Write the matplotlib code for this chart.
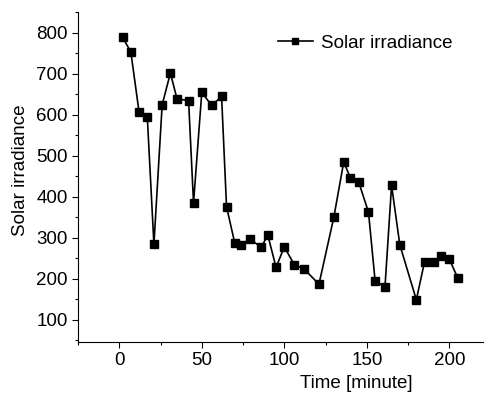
import matplotlib
matplotlib.use("Agg")
import matplotlib.pyplot as plt
from matplotlib.ticker import MultipleLocator

plt.rcParams["font.family"] = ["Liberation Sans", "DejaVu Sans"]

# time [minute] and irradiance
time_min = [2, 7, 12, 17, 21, 26, 31, 35, 42, 45, 50, 56, 62, 65, 70, 74, 79,
            86, 90, 95, 100, 106, 112, 121, 130, 136, 140, 145, 151, 155, 161,
            165, 170, 180, 185, 191, 195, 200, 205]
irradiance = [789, 754, 607, 594, 284, 625, 702, 639, 635, 385, 655, 623, 645,
              376, 287, 282, 298, 277, 307, 228, 278, 235, 224, 187, 350, 485,
              447, 437, 363, 196, 180, 428, 283, 149, 242, 242, 257, 248, 203]

FS = 13.5

fig = plt.figure(figsize=(4.85, 3.94), dpi=100)
ax = fig.add_axes([78 / 485, 52 / 394, 406 / 485, 330 / 394])

ax.plot(time_min, irradiance, color="black", lw=1.2, marker="s", ms=6,
        label="Solar irradiance")

ax.set_xlim(-25, 221)
ax.set_ylim(46, 851)
ax.xaxis.set_major_locator(MultipleLocator(50))
ax.xaxis.set_minor_locator(MultipleLocator(25))
ax.yaxis.set_major_locator(MultipleLocator(100))
ax.yaxis.set_minor_locator(MultipleLocator(50))
ax.tick_params(which="major", direction="out", length=4, width=0.8, labelsize=FS)
ax.tick_params(which="minor", direction="out", length=2.5, width=0.8)

for s in ("top", "right"):
    ax.spines[s].set_visible(False)

ax.set_xlabel("Time [minute]", fontsize=FS)
ax.set_ylabel("Solar irradiance", fontsize=FS)
ax.xaxis.set_label_coords(0.685, -0.10)
ax.yaxis.set_label_coords(-0.12, 0.52)

ax.legend(loc="center left", bbox_to_anchor=(0.45, 0.905), frameon=False,
          fontsize=FS, markerscale=0.7, handlelength=1.9, handletextpad=0.4)

fig.savefig("out.png", dpi=100)
